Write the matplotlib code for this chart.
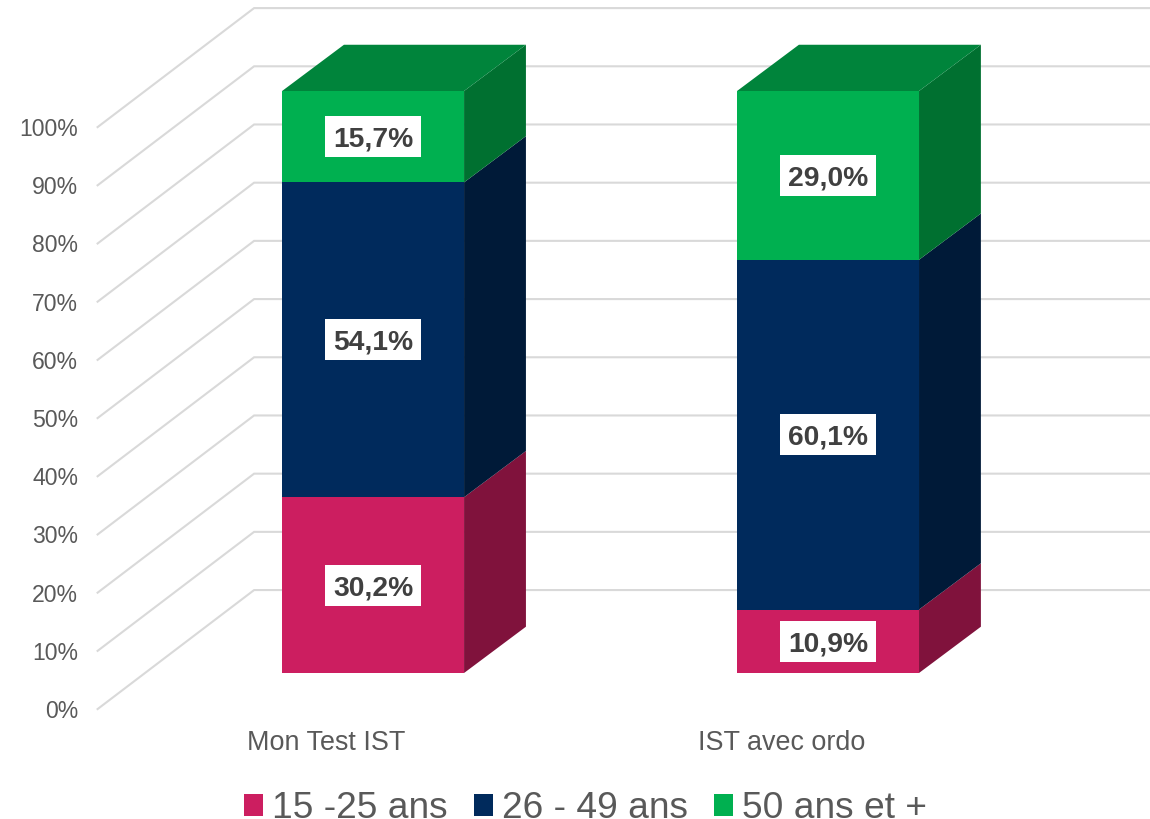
import matplotlib
matplotlib.use('Agg')
import matplotlib.pyplot as plt
from matplotlib.patches import Patch, Polygon, Rectangle

plt.rcParams['font.family'] = ['Liberation Sans', 'DejaVu Sans']

categories = ['Mon Test IST', 'IST avec ordo']
series_names = ['15 -25 ans', '26 - 49 ans', '50 ans et +']
young = [30.2, 10.9]
middle = [54.1, 60.1]
older = [15.7, 29.0]
y_ticks = [0, 10, 20, 30, 40, 50, 60, 70, 80, 90, 100]

front_cols = ['#CC1E60', '#002A5C', '#00B050']
side_cols = ['#80123C', '#001A38', '#007030']
top_col = '#00843B'
grid_col = '#D9D9D9'

# 3d look: depth of a bar and of the wall, in data units
bar_w = 0.4
bar_dx, bar_dy = 0.136, 7.95
wall_x, wall_y = -0.6055, -6.2
wall_dx, wall_dy = 0.344, 20.45
# white box behind the value labels
box_w, box_h = 0.211, 7.04

fig = plt.figure(figsize=(11.5, 8.19), dpi=100)
ax = fig.add_axes([0, 0, 1, 1])
ax.set_xlim(-0.82, 1.7077)
ax.set_ylim(-25.09, 115.64)
ax.axis('off')

# floor and back wall lines
for t in y_ticks:
    ax.plot([wall_x, wall_x + wall_dx, 1.7077],
            [t + wall_y, t + wall_y + wall_dy, t + wall_y + wall_dy],
            color=grid_col, lw=1.5, zorder=1, solid_joinstyle='miter')
    ax.text(wall_x - 0.043, t + wall_y, f'{t}%', ha='right', va='center_baseline',
            fontsize=16.6, color='#595959')

for i, cat in enumerate(categories):
    left = i - bar_w / 2
    right = i + bar_w / 2
    bottom = 0
    for s, vals in enumerate([young, middle, older]):
        v = vals[i]
        ax.add_patch(Polygon([(right, bottom), (right + bar_dx, bottom + bar_dy),
                              (right + bar_dx, bottom + v + bar_dy), (right, bottom + v)],
                             fc=side_cols[s], ec='none', zorder=2))
        ax.bar(i, v, bar_w, bottom=bottom, color=front_cols[s], lw=0, zorder=3)
        mid = bottom + v / 2
        ax.add_patch(Rectangle((i - box_w / 2, mid - box_h / 2), box_w, box_h,
                               fc='white', ec='none', zorder=4))
        ax.text(i, mid, f'{v:.1f}%'.replace('.', ','), ha='center', va='center_baseline',
                fontsize=20.3, fontweight='bold', color='#404040', zorder=5)
        bottom += v
    # top of the stack
    ax.add_patch(Polygon([(left, bottom), (right, bottom), (right + bar_dx, bottom + bar_dy),
                          (left + bar_dx, bottom + bar_dy)],
                         fc=top_col, ec='none', zorder=2))
    ax.text(i - 0.102, -11.5, cat, ha='center', va='center_baseline', fontsize=19.4, color='#595959')

handles = [Patch(fc=c, ec='none') for c in front_cols]
fig.legend(handles, series_names, loc='center', bbox_to_anchor=(0.509, 0.0125), ncols=3,
           frameon=False, fontsize=26.7, labelcolor='#595959', handlelength=0.514,
           handleheight=0.514, handletextpad=0.24, columnspacing=0.7,
           borderpad=0, borderaxespad=0)

fig.savefig('out.png', dpi=100)
